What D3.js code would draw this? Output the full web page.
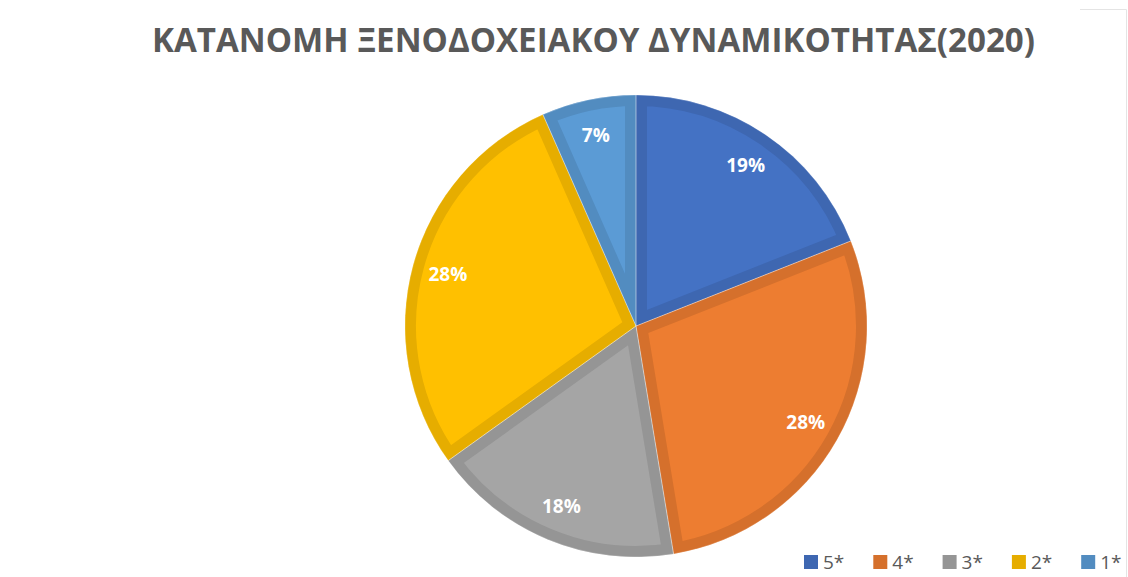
<!DOCTYPE html>
<html>
<head>
<meta charset="utf-8">
<script src="https://cdn.jsdelivr.net/npm/d3@7"></script>
<style>
  body { margin: 0; background: #fff; }
  text { font-family: "Open Sans", Calibri, sans-serif; }
</style>
</head>
<body>
<div id="chart"></div>
<script>
// data
var categories = ['5*', '4*', '3*', '2*', '1*'];
var shares = [19.0, 28.4, 17.7, 28.3, 6.6];
var fillColors = ['#4472C4', '#ED7D31', '#A5A5A5', '#FFC000', '#5B9BD5'];
var edgeColors = ['#3E67B1', '#D5702C', '#959595', '#E6AD00', '#528CC0'];
var titleText = 'ΚΑΤΑΝΟΜΗ ΞΕΝΟΔΟΧΕΙΑΚΟΥ ΔΥΝΑΜΙΚΟΤΗΤΑΣ(2020)';

var svgWidth = 1128;
var svgHeight = 577;

var cx = 636, cy = 326, radius = 231;
var border = 11;

var svg = d3.select('#chart').append('svg')
    .attr('width', svgWidth)
    .attr('height', svgHeight);

// faint chart frame at the top right
svg.append('path')
    .attr('d', 'M1080,9.5H1126.5V577')
    .attr('fill', 'none')
    .attr('stroke', '#e4e4e4')
    .attr('stroke-width', 1);

// title
svg.append('text')
    .attr('x', 152)
    .attr('y', 52)
    .attr('textLength', 883)
    .attr('lengthAdjust', 'spacingAndGlyphs')
    .attr('font-size', '34px')
    .attr('font-weight', 'bold')
    .attr('fill', '#595959')
    .text(titleText);

var data = categories.map(function(c, i) {
    return { cat: c, value: shares[i], i: i };
});

var pie = d3.pie().sort(null).value(d => d.value);
var arcs = pie(data);

var arc = d3.arc().innerRadius(0).outerRadius(radius);
var labelArc = d3.arc().innerRadius(195).outerRadius(195);

var defs = svg.append('defs');
defs.selectAll('clipPath')
    .data(arcs)
    .enter()
    .append('clipPath')
    .attr('id', d => 'clip' + d.data.i)
    .append('path')
    .attr('d', arc);

var pieGroup = svg.append('g')
    .attr('transform', `translate(${cx}, ${cy})`);

// slices with inner darker border
pieGroup.selectAll('.slice')
    .data(arcs)
    .enter()
    .append('path')
    .classed('slice', true)
    .attr('d', arc)
    .attr('fill', d => fillColors[d.data.i])
    .attr('stroke', d => edgeColors[d.data.i])
    .attr('stroke-width', border * 2)
    .attr('stroke-linejoin', 'miter')
    .attr('clip-path', d => `url(#clip${d.data.i})`);

// thin separators
pieGroup.selectAll('.sep')
    .data(arcs)
    .enter()
    .append('path')
    .classed('sep', true)
    .attr('d', arc)
    .attr('fill', 'none')
    .attr('stroke', '#ffffff')
    .attr('stroke-opacity', 0.35)
    .attr('stroke-width', 0.8);

// labels
pieGroup.selectAll('.lbl')
    .data(arcs)
    .enter()
    .append('text')
    .classed('lbl', true)
    .attr('transform', d => `translate(${labelArc.centroid(d)})`)
    .attr('text-anchor', 'middle')
    .attr('dy', '0.36em')
    .attr('font-size', '19px')
    .attr('font-weight', 'bold')
    .attr('fill', '#ffffff')
    .text(d => Math.round(d.data.value) + '%');

// legend
var legend = svg.append('g')
    .attr('transform', 'translate(804, 555)');

var items = legend.selectAll('.item')
    .data(categories)
    .enter()
    .append('g')
    .classed('item', true)
    .attr('transform', (d, i) => `translate(${i * 69.3}, 0)`);

items.append('rect')
    .attr('width', 14)
    .attr('height', 14)
    .attr('fill', (d, i) => edgeColors[i]);

items.append('text')
    .attr('x', 19)
    .attr('y', 14)
    .attr('font-size', '19px')
    .attr('fill', '#595959')
    .text(d => d);
</script>
</body>
</html>
